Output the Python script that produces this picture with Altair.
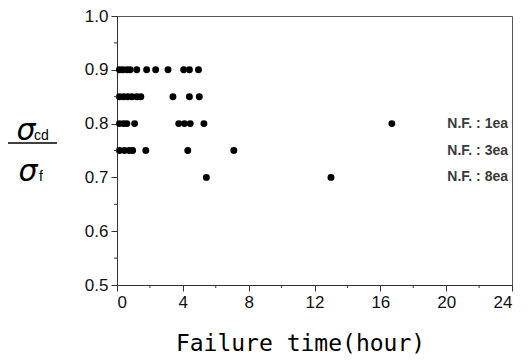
import altair as alt
import pandas as pd

# Failure time (hour) for each stress ratio level
ratio_levels = [0.9, 0.85, 0.8, 0.75, 0.7]
times_090 = [0.15, 0.35, 0.6, 0.8, 1.2, 1.8, 2.35, 3.1, 4.05, 4.4, 4.95]
times_085 = [0.15, 0.4, 0.65, 0.9, 1.2, 1.45, 3.4, 4.4, 5.0]
times_080 = [0.15, 0.4, 0.6, 1.07, 3.75, 4.1, 4.45, 5.28, 16.7]
times_075 = [0.15, 0.45, 0.75, 0.95, 1.75, 4.3, 7.1]
times_070 = [5.43, 13.0]

# Annotation labels (non-failure counts)
nf_labels = ["N.F. : 1ea", "N.F. : 3ea", "N.F. : 8ea"]
nf_levels = [0.8, 0.75, 0.7]

x_ticks = [0, 4, 8, 12, 16, 20, 24]
x_minor = [2, 6, 10, 14, 18, 22]
y_ticks = [0.5, 0.6, 0.7, 0.8, 0.9, 1.0]
y_minor = [0.55, 0.65, 0.75, 0.85, 0.95]

rows = []
for lvl, ts in zip(ratio_levels, [times_090, times_085, times_080, times_075, times_070]):
    for t in ts:
        rows.append({"time": t, "ratio": lvl})
df = pd.DataFrame(rows)

xscale = alt.Scale(domain=[0, 24], nice=False, zero=False)
yscale = alt.Scale(domain=[0.5, 1.0], nice=False, zero=False)

FONT = "Liberation Sans"

points = alt.Chart(df).mark_circle(size=48, color="black", opacity=1).encode(
    x=alt.X("time:Q", scale=xscale, axis=alt.Axis(
        values=x_ticks, title="Failure time(hour)", format="d",
        titleFont="DejaVu Sans Mono", titleFontSize=23, titleFontWeight="normal",
        titleColor="black", titlePadding=22, titleX=183,
        labelFont=FONT, labelFontSize=17, labelColor="#111", labelPadding=3,
        tickSize=6, tickColor="#333", domainColor="#333", grid=False)),
    y=alt.Y("ratio:Q", scale=yscale, axis=alt.Axis(
        values=y_ticks, title=None, format=".1f",
        labelFont=FONT, labelFontSize=17, labelColor="#111", labelPadding=3,
        tickSize=6, tickColor="#333", domainColor="#333", grid=False)),
)

xminor = alt.Chart(pd.DataFrame({"t": x_minor})).mark_rule(color="#333").encode(
    x=alt.X("t:Q", scale=xscale), y=alt.value(269), y2=alt.value(272))
yminor = alt.Chart(pd.DataFrame({"r": y_minor})).mark_rule(color="#333").encode(
    y=alt.Y("r:Q", scale=yscale), x=alt.value(-3), x2=alt.value(0))

nf = alt.Chart(pd.DataFrame({"label": nf_labels, "ratio": nf_levels})).mark_text(
    align="right", baseline="middle", font=FONT, fontSize=14, fontWeight="bold",
    color="#3a3a3a").encode(
    y=alt.Y("ratio:Q", scale=yscale), x=alt.value(391), text="label:N")

sig = alt.Chart(pd.DataFrame({"t": ["σ", "σ"], "px": [-91, -89], "py": [124, 165]})).mark_text(
    font="DejaVu Sans", fontStyle="italic", fontSize=30, color="black",
    align="center", baseline="alphabetic").encode(
    x=alt.X("px:Q", scale=None), y=alt.Y("py:Q", scale=None), text="t:N")
subs = alt.Chart(pd.DataFrame({"t": ["cd", "f"], "px": [-83, -78], "py": [124, 165]})).mark_text(
    font=FONT, fontSize=14, color="black", align="left", baseline="alphabetic").encode(
    x=alt.X("px:Q", scale=None), y=alt.Y("py:Q", scale=None), text="t:N")
frac = alt.Chart(pd.DataFrame({"a": [0]})).mark_rule(color="black", strokeWidth=1.5).encode(
    x=alt.value(-109), x2=alt.value(-60), y=alt.value(127))

chart = alt.layer(points, xminor, yminor, nf, sig, subs, frac).properties(
    width=395, height=269,
    padding={"left": 109, "top": 8, "right": 8, "bottom": 70},
    autosize="none",
).configure_view(stroke="#555", strokeWidth=1).configure_axis(domainWidth=1)

chart.save("out.html", embed_options={"renderer": "svg", "actions": False})
